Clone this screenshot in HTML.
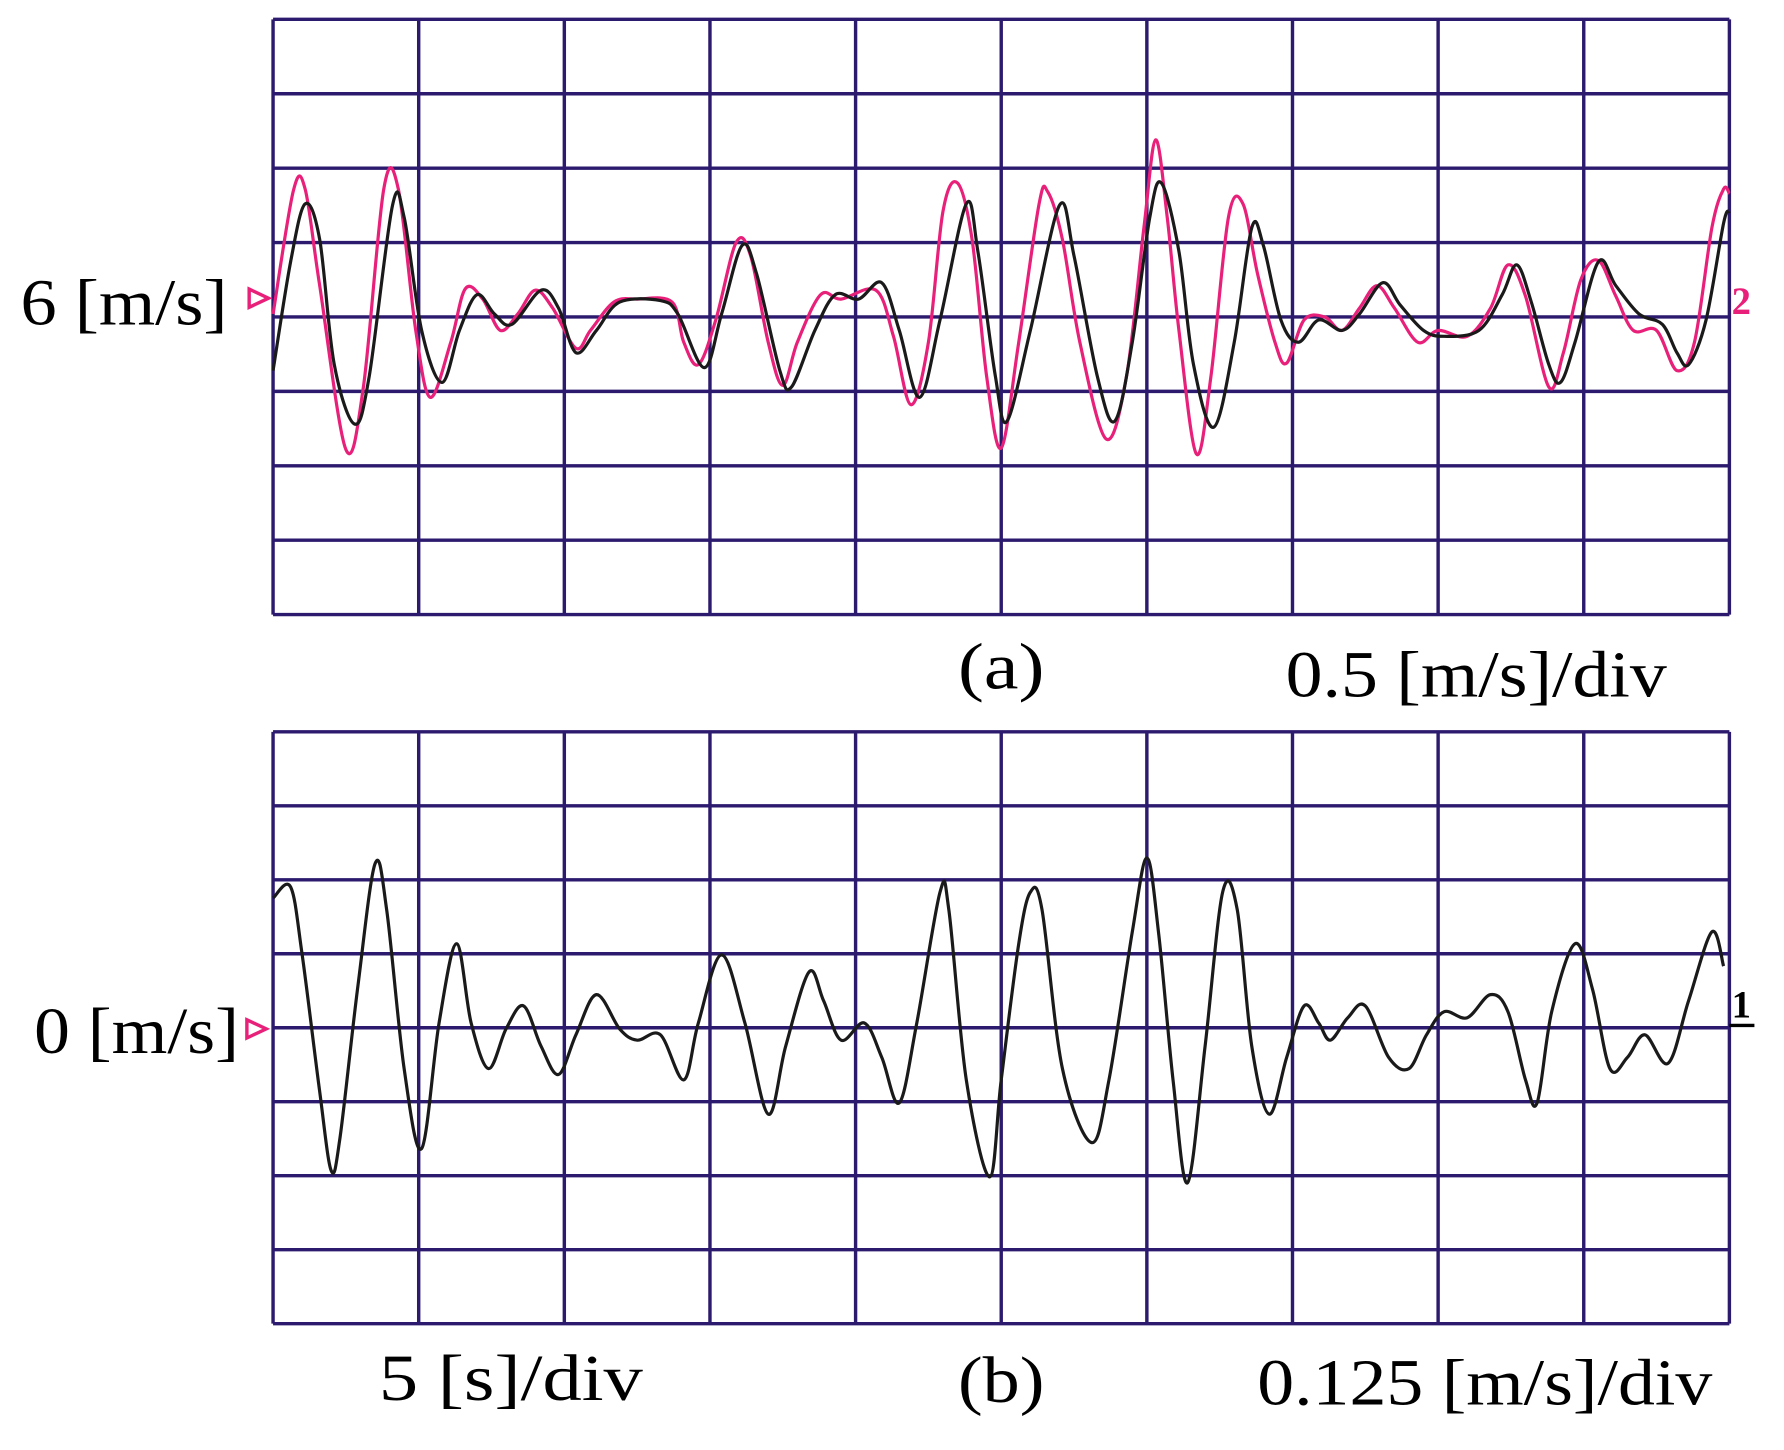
<!DOCTYPE html>
<html><head><meta charset="utf-8"><style>
html,body{margin:0;padding:0;background:#fff;}
svg{display:block;}
text{font-family:"Liberation Serif",serif;fill:#000;}
</style></head><body>
<svg id="chart" width="1784" height="1450" viewBox="0 0 1568 1274" preserveAspectRatio="none" xmlns="http://www.w3.org/2000/svg">
<g id="gridA"></g>
<g id="gridB"></g>
<g id="traces"></g>
<text x="18" y="285" font-size="58" textLength="182" lengthAdjust="spacingAndGlyphs">6 [m/s]</text>
<polygon points="219,254 236,262 219,270" fill="none" stroke="#e8207a" stroke-width="3"/>
<text x="1522" y="276" font-size="34" font-weight="bold" fill="#e8207a" style="fill:#e8207a">2</text>
<text x="842" y="605" font-size="58" textLength="76" lengthAdjust="spacingAndGlyphs">(a)</text>
<text x="1130" y="612" font-size="58" textLength="335" lengthAdjust="spacingAndGlyphs">0.5 [m/s]/div</text>
<text x="30" y="925" font-size="58" textLength="180" lengthAdjust="spacingAndGlyphs">0 [m/s]</text>
<polygon points="217,896 234,904 217,912" fill="none" stroke="#e8207a" stroke-width="3"/>
<text x="1522" y="894" font-size="34" font-weight="bold">1</text>
<line x1="1520" y1="901" x2="1542" y2="901" stroke="#000" stroke-width="3"/>
<text x="333" y="1230" font-size="58" textLength="232" lengthAdjust="spacingAndGlyphs">5  [s]/div</text>
<text x="842" y="1232" font-size="58" textLength="76" lengthAdjust="spacingAndGlyphs">(b)</text>
<text x="1105" y="1234" font-size="58" textLength="400" lengthAdjust="spacingAndGlyphs">0.125 [m/s]/div</text>
</svg>
<script>
const tPinkA=[0,0.7,1.1,1.6,2.5,3.1,3.8,4.3,4.9,5.4,6.1,6.6,7.2,7.8,8.4,9.0,9.6,10.4,10.9,11.7,12.5,13.7,14.1,14.6,15.2,15.9,16.4,17.0,17.5,18.0,18.8,19.5,20.7,21.3,21.9,22.5,23.0,23.5,24.0,24.5,25.0,25.6,26.3,26.6,27.1,27.7,28.6,29.3,29.9,30.3,30.7,31.1,31.7,32.2,32.8,33.3,33.8,34.4,34.8,35.4,36.1,36.7,37.3,37.9,38.5,39.3,40.0,41.0,41.8,42.4,43.0,43.8,44.3,44.9,45.5,46.1,46.7,47.5,48.2,48.8,49.4,49.8,50];
const vPinkA=[6.02,6.85,6.86,6.21,5.11,5.53,6.86,6.86,5.91,5.46,5.83,6.19,6.12,5.91,6.02,6.18,6.06,5.79,5.91,6.10,6.12,6.10,5.83,5.68,5.98,6.50,6.41,5.83,5.54,5.83,6.15,6.12,6.18,5.87,5.41,5.83,6.71,6.90,6.52,5.60,5.12,5.83,6.76,6.84,6.52,5.83,5.18,5.60,6.60,7.19,6.67,5.91,5.08,5.60,6.67,6.76,6.29,5.83,5.69,5.98,6.00,5.91,6.06,6.21,6.06,5.83,5.91,5.87,6.06,6.35,6.14,5.53,5.76,6.25,6.38,6.14,5.91,5.91,5.64,5.83,6.60,6.86,6.83];
const tBlackA=[0,0.6,1.1,1.6,2.1,2.8,3.3,4.1,4.5,5.1,5.8,6.4,7.0,7.6,8.2,9.2,9.8,10.4,11.1,11.9,13.3,13.9,14.8,15.4,16.1,16.6,17.4,17.8,18.6,19.3,20.1,20.9,21.5,22.2,22.9,23.8,24.2,24.8,25.2,26.0,27.0,27.5,28.3,28.9,29.5,30.1,30.5,31.1,31.6,32.3,33.0,33.6,34.0,34.6,35.2,35.9,36.7,37.3,38.1,38.7,39.5,40.2,41.4,42.2,42.7,43.2,43.8,44.2,44.7,45.5,46.1,46.9,47.7,48.2,48.6,49.2,49.8,50];
const vBlackA=[5.64,6.37,6.76,6.52,5.68,5.28,5.60,6.75,6.67,5.91,5.56,5.91,6.15,6.02,5.95,6.18,6.06,5.76,5.91,6.10,6.11,6.02,5.66,6.02,6.48,6.29,5.64,5.53,5.91,6.15,6.12,6.23,5.91,5.46,5.98,6.76,6.44,5.60,5.30,5.91,6.75,6.41,5.60,5.30,5.83,6.67,6.90,6.44,5.68,5.26,5.83,6.60,6.48,5.98,5.83,5.98,5.91,6.02,6.23,6.08,5.91,5.87,5.91,6.15,6.35,6.10,5.68,5.56,5.83,6.37,6.21,6.02,5.95,5.76,5.68,5.98,6.63,6.71];
const tB=[0,0.6,1.0,1.6,2.0,2.3,2.9,3.5,3.9,4.5,5.1,5.7,6.3,6.8,7.4,8.0,8.6,9.2,9.8,10.4,11.1,11.9,12.5,13.3,14.1,14.6,15.4,16.2,17.0,17.6,18.4,18.9,19.5,20.3,20.9,21.5,22.1,22.9,23.2,23.8,24.6,25.0,25.6,26.0,26.4,27.1,28.1,28.7,29.5,30.0,30.4,30.9,31.4,32.0,32.6,33.1,33.6,34.2,34.8,35.4,35.9,36.3,36.9,37.5,38.3,39.0,39.6,40.2,41.0,41.8,42.4,43.0,43.4,43.9,44.7,45.3,45.9,46.5,47.1,47.9,48.6,49.4,49.8];
const vB=[0.219,0.238,0.123,-0.108,-0.242,-0.185,0.065,0.277,0.200,-0.069,-0.204,0.008,0.142,0.008,-0.069,-0.002,0.037,-0.031,-0.079,-0.012,0.056,-0.002,-0.021,-0.012,-0.088,0.008,0.123,0.008,-0.146,-0.031,0.094,0.046,-0.021,0.008,-0.050,-0.127,0.008,0.229,0.200,-0.088,-0.252,-0.088,0.142,0.229,0.200,-0.069,-0.194,-0.088,0.162,0.287,0.162,-0.088,-0.262,-0.031,0.229,0.200,-0.031,-0.146,-0.050,0.037,0.008,-0.021,0.017,0.037,-0.050,-0.069,-0.012,0.027,0.017,0.056,0.027,-0.088,-0.127,0.027,0.142,0.065,-0.069,-0.050,-0.012,-0.060,0.046,0.162,0.104];

const NS='http://www.w3.org/2000/svg';
const X0=240,X1=1520;
const xScale=t=>X0+(t/50)*(X1-X0);
const panelA={top:17,bot:540,center:6,perDiv:0.5};
const panelB={top:643,bot:1163,center:0,perDiv:0.125};
function yScale(p,v){const mid=(p.top+p.bot)/2,dh=(p.bot-p.top)/8;return mid-(v-p.center)/p.perDiv*dh;}
function drawGrid(g,p){
  for(let i=0;i<=10;i++){const x=X0+i*(X1-X0)/10;const l=document.createElementNS(NS,'line');
    l.setAttribute('x1',x);l.setAttribute('x2',x);l.setAttribute('y1',p.top);l.setAttribute('y2',p.bot);
    l.setAttribute('stroke','#2b1a6e');l.setAttribute('stroke-width','3');
    
    
    g.appendChild(l);}
  for(let j=0;j<=8;j++){const y=p.top+j*(p.bot-p.top)/8;const l=document.createElementNS(NS,'line');
    l.setAttribute('x1',X0);l.setAttribute('x2',X1);l.setAttribute('y1',y);l.setAttribute('y2',y);
    l.setAttribute('stroke','#2b1a6e');l.setAttribute('stroke-width','3');
    
    
    g.appendChild(l);}
}
drawGrid(document.getElementById('gridA'),panelA);
drawGrid(document.getElementById('gridB'),panelB);
function pathFor(ts,vs,p){
  const pts=ts.map((t,i)=>[xScale(t),yScale(p,vs[i])]);
  let d='M'+pts[0][0].toFixed(1)+','+pts[0][1].toFixed(1);
  for(let i=0;i<pts.length-1;i++){
    const p0=pts[Math.max(0,i-1)],p1=pts[i],p2=pts[i+1],p3=pts[Math.min(pts.length-1,i+2)];
    const c1=[p1[0]+(p2[0]-p0[0])/6,p1[1]+(p2[1]-p0[1])/6],c2=[p2[0]-(p3[0]-p1[0])/6,p2[1]-(p3[1]-p1[1])/6];
    d+=' C'+c1[0].toFixed(1)+','+c1[1].toFixed(1)+' '+c2[0].toFixed(1)+','+c2[1].toFixed(1)+' '+p2[0].toFixed(1)+','+p2[1].toFixed(1);
  }
  return d;
}
const tr=document.getElementById('traces');
function addTrace(ts,vs,p,color,name){
  const el=document.createElementNS(NS,'path');
  el.setAttribute('d',pathFor(ts,vs,p));el.setAttribute('fill','none');
  el.setAttribute('stroke',color);el.setAttribute('stroke-width','2.8');el.setAttribute('stroke-linejoin','round');
  
  
  tr.appendChild(el);
}
addTrace(tPinkA,vPinkA,panelA,'#e8207a','panel-a-reference-speed-trace');
addTrace(tBlackA,vBlackA,panelA,'#1a1a1a','panel-a-measured-speed-trace');
addTrace(tB,vB,panelB,'#1a1a1a','panel-b-speed-error-trace');
</script>
</body></html>
